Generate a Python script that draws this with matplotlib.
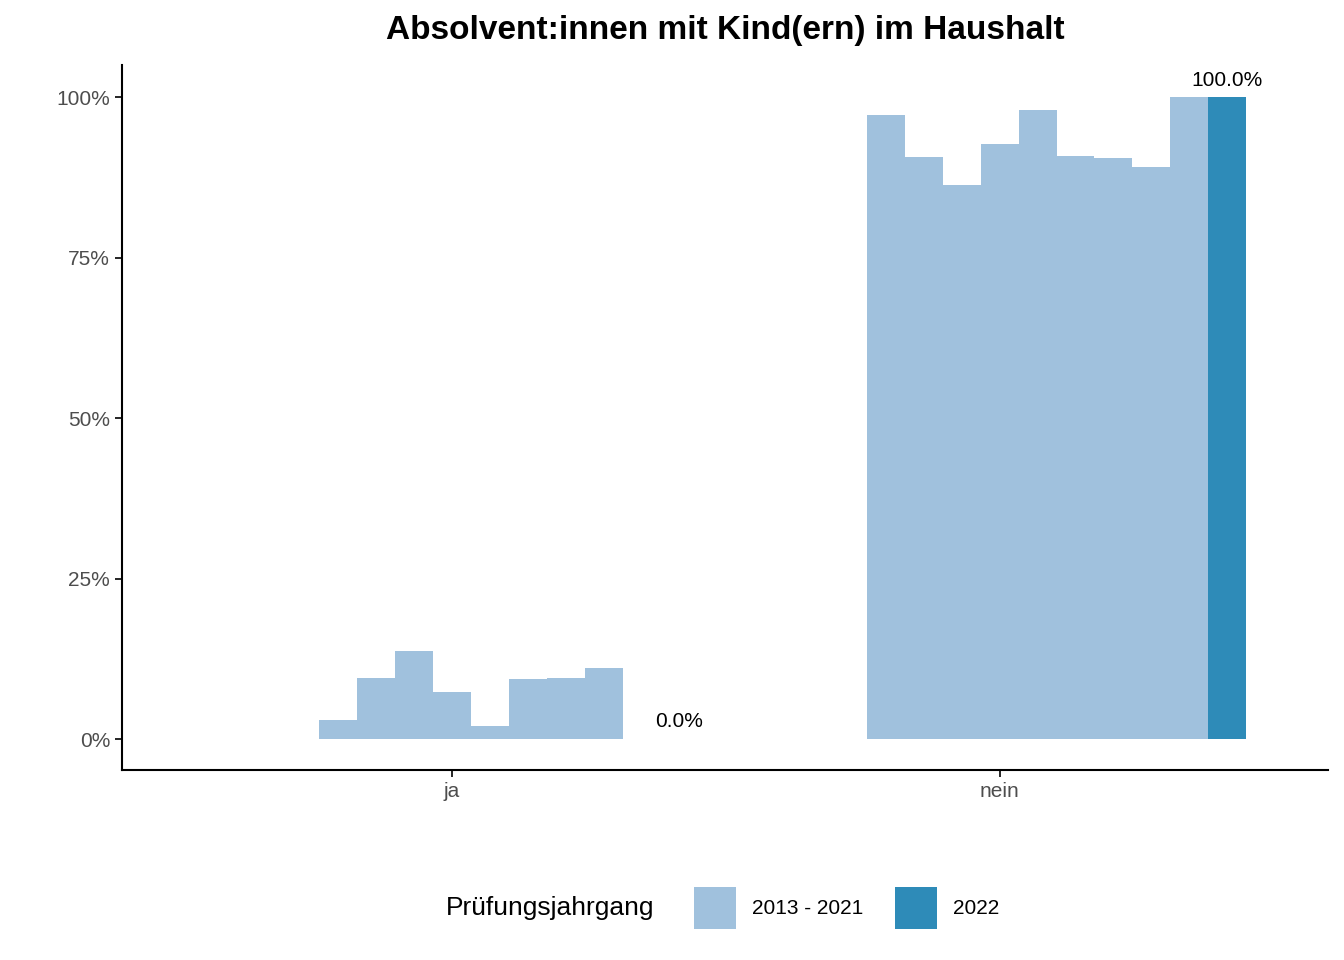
import matplotlib
matplotlib.use("Agg")
import matplotlib.pyplot as plt
from matplotlib.patches import Rectangle

plt.rcParams["font.family"] = "Liberation Sans"

categories = ["ja", "nein"]
ja_hist = [3.0, 9.5, 13.7, 7.3, 2.0, 9.3, 9.5, 11.1]
nein_hist = [97.2, 90.7, 86.4, 92.7, 98.1, 90.8, 90.5, 89.1, 100.0]
val_2022 = [0.0, 100.0]
ytick_labels = ["0%", "25%", "50%", "75%", "100%"]

light, dark = "#a0c1dd", "#2e8bb8"
w = 0.0693
start = -0.243

fig = plt.figure(figsize=(13.44, 9.6), dpi=100)
ax = fig.add_axes([0.0908, 0.198, 0.8973, 0.734])

for ci, hist in enumerate([ja_hist, nein_hist]):
    xc = ci + 1
    for i, v in enumerate(hist):
        ax.bar(xc + start + i * w, v, width=w, align="edge", color=light, linewidth=0)
    x22 = xc + start + 9 * w
    ax.bar(x22, val_2022[ci], width=w, align="edge", color=dark, linewidth=0)
    ax.text(x22 + w / 2, val_2022[ci] + 1.2, f"{val_2022[ci]:.1f}%", ha="center", va="bottom",
            fontsize=15, color="black")

ax.set_xlim(0.398, 2.599)
ax.set_ylim(-4.8, 105)
ax.set_xticks([1, 2])
ax.set_xticklabels(categories, fontsize=15, color="#4d4d4d")
ax.set_yticks([0, 25, 50, 75, 100])
ax.set_yticklabels(ytick_labels, fontsize=15, color="#4d4d4d")
for s in ["top", "right"]:
    ax.spines[s].set_visible(False)
for s in ["left", "bottom"]:
    ax.spines[s].set_linewidth(1.5)
ax.tick_params(length=5, width=1.2)

fig.text(0.54, 0.968, "Absolvent:innen mit Kind(ern) im Haushalt", ha="center", va="center",
         fontsize=24, fontweight="bold")

# manual legend
ly = 1 - 908 / 960
fig.text(446 / 1344, ly, "Prüfungsjahrgang", ha="left", va="center", fontsize=19)
for x0, col, lab in [(694, light, "2013 - 2021"), (895, dark, "2022")]:
    fig.patches.append(Rectangle((x0 / 1344, 1 - 929 / 960), 42 / 1344, 42 / 960,
                                 transform=fig.transFigure, color=col, linewidth=0))
    fig.text((x0 + 58) / 1344, ly, lab, ha="left", va="center", fontsize=15)

fig.savefig("out.png", dpi=100)
